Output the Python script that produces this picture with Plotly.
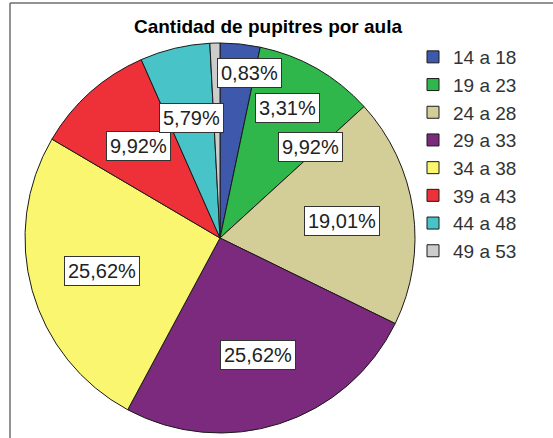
import math
import plotly.graph_objects as go

# ---- data ----
categories = ["14 a 18", "19 a 23", "24 a 28", "29 a 33", "34 a 38", "39 a 43", "44 a 48", "49 a 53"]
percentages = [3.31, 9.92, 19.01, 25.62, 25.62, 9.92, 5.79, 0.83]
colors = ["#3E58AC", "#2FB74C", "#D3CE97", "#7B2A7D", "#FBF66F", "#EE3039", "#48C3C7", "#CCCCCC"]
title_text = "Cantidad de pupitres por aula"

# ---- layout constants (pixels) ----
W, H = 553, 438
CX, CY, R = 220, 238, 195
LABEL_K = 0.63
# pixel nudges for crowded labels (xshift, yshift)
nudges = {7: (33, 42), 0: (55, 8), 1: (30, -16)}

FONT = "Liberation Sans, Arial, sans-serif"

fig = go.Figure()
fig.add_trace(go.Pie(
    labels=categories,
    values=percentages,
    marker=dict(colors=colors, line=dict(color="#1a1a1a", width=1)),
    sort=False,
    direction="clockwise",
    rotation=0,
    textinfo="none",
    hoverinfo="label+percent",
    domain=dict(x=[(CX - R) / W, (CX + R) / W],
                y=[(H - CY - R) / H, (H - CY + R) / H]),
))

# boxed percentage labels at slice mid-angles
total = sum(percentages)
cum = 0.0
annotations = []
for i, v in enumerate(percentages):
    mid = (cum + v / 2) / total * 2 * math.pi
    cum += v
    px = CX + LABEL_K * R * math.sin(mid)
    py = CY - LABEL_K * R * math.cos(mid)
    xs, ys = nudges.get(i, (0, 0))
    annotations.append(dict(
        x=px / W, y=1 - py / H, xref="paper", yref="paper",
        xanchor="center", yanchor="middle",
        text=f"{v:.2f}%".replace(".", ","),
        showarrow=False, xshift=xs, yshift=ys,
        font=dict(family=FONT, size=20, color="#222222"),
        bgcolor="white", bordercolor="#333333", borderwidth=1, borderpad=3,
    ))

fig.update_layout(
    width=W, height=H, autosize=False,
    margin=dict(l=0, r=0, t=0, b=0),
    paper_bgcolor="white", plot_bgcolor="white",
    title=dict(text=f"<b>{title_text}</b>", x=268 / W, xanchor="center",
               y=1 - 26 / H, yanchor="middle", yref="container",
               font=dict(family=FONT, size=19, color="black")),
    legend=dict(x=413 / W, y=1 - 38 / H, xanchor="left", yanchor="top",
                font=dict(family=FONT, size=19, color="#333333"),
                bgcolor="rgba(0,0,0,0)", traceorder="normal"),
    annotations=annotations,
    shapes=[
        dict(type="line", xref="paper", yref="paper", x0=10 / W, x1=1, y0=1 - 3 / H, y1=1 - 3 / H,
             line=dict(color="#6e6e6e", width=1.5)),
        dict(type="line", xref="paper", yref="paper", x0=10 / W, x1=10 / W, y0=0, y1=1 - 3 / H,
             line=dict(color="#6e6e6e", width=1.5)),
    ],
)

fig.write_html("out.html",
               config={"displayModeBar": False},
               post_script="document.body.style.margin='0px';document.body.style.overflow='hidden';")
